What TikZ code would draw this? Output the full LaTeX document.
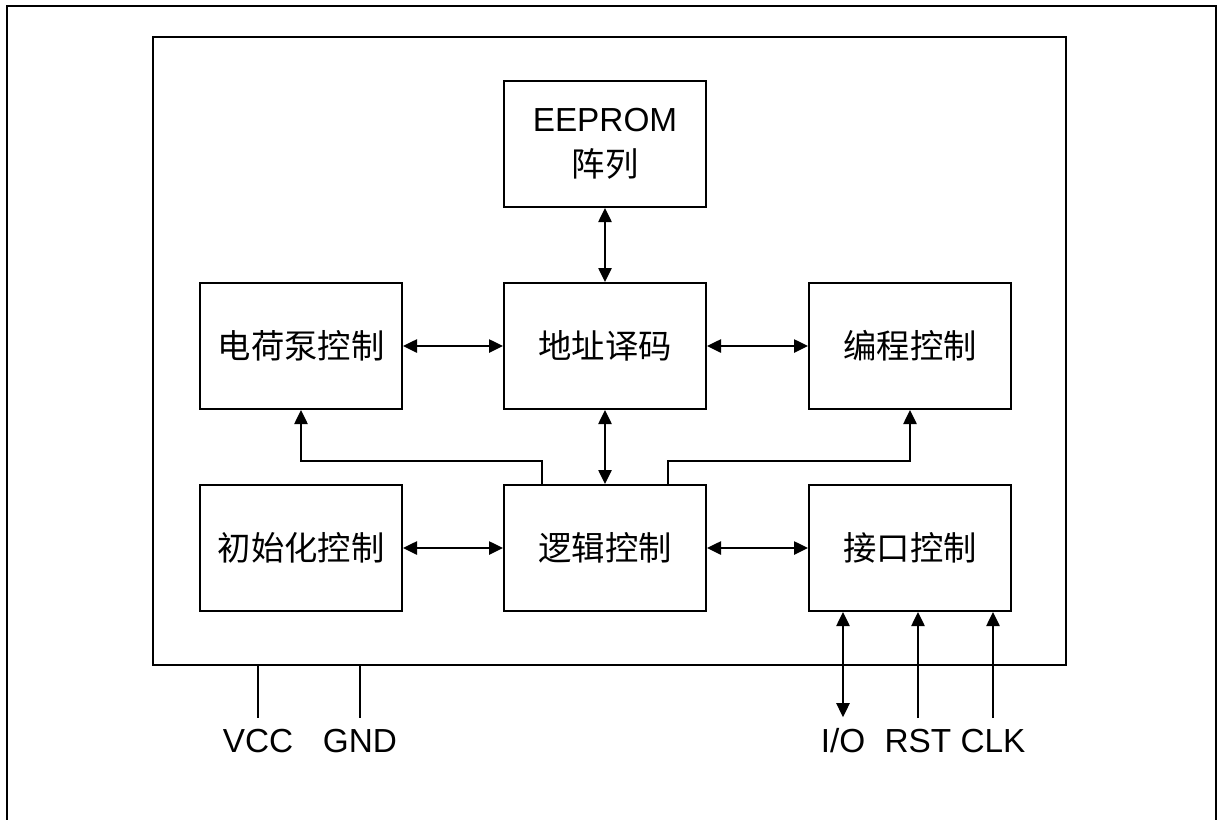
\documentclass[tikz,border=0pt]{standalone}
\usepackage{fontspec}
\setmainfont{Liberation Sans}
\newfontfamily\cjk{Noto Sans CJK SC}
\usetikzlibrary{arrows.meta}

\begin{document}
\begin{tikzpicture}[x=0.75pt,y=-0.75pt,
  blk/.style={draw, line width=1.5pt, minimum width=151.5pt, minimum height=94.5pt, inner sep=0pt,
    align=center, font=\fontsize{25}{34}\selectfont},
  pin/.style={anchor=base, inner sep=0pt, outer sep=8pt, font=\fontsize{25}{30}\selectfont},
  con/.style={line width=1.1pt},
  tip/.style={-{Triangle[length=10.5pt,width=10pt]}},
  tips/.style={{Triangle[length=10.5pt,width=10pt]}-{Triangle[length=10.5pt,width=10pt]}}]
\useasboundingbox (0,0) rectangle (1222,819);

\draw[line width=1.5pt] (7,830) |- (1216,6) -- (1216,830);

\node[draw, line width=1.8pt, minimum width=684.75pt, minimum height=471pt, inner sep=0pt] (chip) at (609.5,351) {};

\node[blk] (eeprom) at (605,144) {EEPROM\\{\cjk 阵列}};
\node[blk] (pump) at (301,346) {\cjk 电荷泵控制};
\node[blk] (addr) at (605,346) {\cjk 地址译码};
\node[blk] (prog) at (910,346) {\cjk 编程控制};
\node[blk] (init) at (301,548) {\cjk 初始化控制};
\node[blk] (logic) at (605,548) {\cjk 逻辑控制};
\node[blk] (iface) at (910,548) {\cjk 接口控制};

\draw[con,tips] (eeprom) -- (addr);
\draw[con,tips] (pump) -- (addr);
\draw[con,tips] (addr) -- (prog);
\draw[con,tips] (addr) -- (logic);
\draw[con,tips] (init) -- (logic);
\draw[con,tips] (logic) -- (iface);

\coordinate (bendL) at (542,461);
\coordinate (bendR) at (668,461);
\draw[con,tip] (bendL |- logic.north) -- (bendL) -| (pump.south);
\draw[con,tip] (bendR |- logic.north) -- (bendR) -| (prog.south);

% pins
\node[pin] (vcc) at (258,752) {VCC};
\node[pin] (gnd) at (360,752) {GND};
\node[pin] (io) at (843,752) {I/O};
\node[pin] (rst) at (918,752) {RST};
\node[pin] (clk) at (993,752) {CLK};

\draw[con] (vcc.north |- chip.south) -- (vcc.north);
\draw[con] (gnd.north |- chip.south) -- (gnd.north);
\draw[con,tips] (io.north |- iface.south) -- (io.north);
\draw[con,tip] (rst.north) -- (rst.north |- iface.south);
\draw[con,tip] (clk.north) -- (clk.north |- iface.south);

\end{tikzpicture}
\end{document}
